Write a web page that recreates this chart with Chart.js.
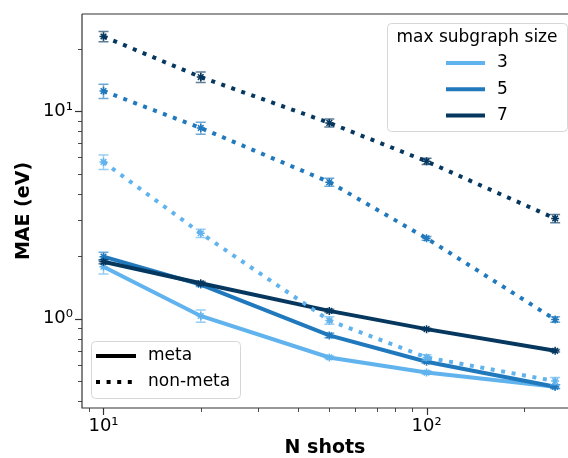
<!DOCTYPE html>
<html>
<head>
<meta charset="utf-8">
<script src="https://cdn.jsdelivr.net/npm/chart.js@4"></script>
<style>
html, body { margin: 0; padding: 0; background: #fff; }
</style>
</head>
<body>
<canvas id="maeChart" width="568" height="458"></canvas>
<script>
// N shots on the x axis
const nShots = [10, 20, 50, 100, 250];
const sizeLabels = ["3", "5", "7"];
const styleLabels = ["meta", "non-meta"];

// MAE (eV)
const metaMae3 = [1.78, 1.03, 0.65, 0.55, 0.47];
const metaMae5 = [1.99, 1.46, 0.83, 0.62, 0.47];
const metaMae7 = [1.88, 1.48, 1.09, 0.89, 0.70];
const nonMetaMae3 = [5.69, 2.58, 0.98, 0.65, 0.50];
const nonMetaMae5 = [12.5, 8.3, 4.55, 2.44, 0.99];
const nonMetaMae7 = [22.9, 14.6, 8.78, 5.73, 3.04];

// error bar half sizes (eV)
const metaErr3 = [0.14, 0.07, 0.01, 0.01, 0.01];
const metaErr5 = [0.10, 0.03, 0.02, 0.01, 0.01];
const metaErr7 = [0.04, 0.03, 0.02, 0.01, 0.01];
const nonMetaErr3 = [0.45, 0.12, 0.04, 0.02, 0.02];
const nonMetaErr5 = [1.0, 0.55, 0.2, 0.05, 0.03];
const nonMetaErr7 = [1.3, 0.85, 0.4, 0.2, 0.14];

const xTickValues = [9, 10, 20, 30, 40, 50, 60, 70, 80, 90, 100, 200];
const yTickValues = [0.4, 0.5, 0.6, 0.7, 0.8, 0.9, 1, 2, 3, 4, 5, 6, 7, 8, 9, 10, 20];
const tickLabels = {1: "10⁰", 10: "10¹", 100: "10²"};

const colors = ["#61b3ee", "#2079bd", "#06375f"];
const errColors = ["rgba(97,179,238,0.65)", "rgba(32,121,189,0.65)", "rgba(6,55,95,0.65)"];
const FONT = "'DejaVu Sans', sans-serif";

function makeSet(label, values, errors, colorIdx, dotted, order) {
    return {
        label: label,
        data: nShots.map((n, i) => ({x: n, y: values[i]})),
        errors: errors,
        errorColor: errColors[colorIdx],
        borderColor: colors[colorIdx],
        backgroundColor: colors[colorIdx],
        borderWidth: 4,
        borderDash: dotted ? [4, 6.6] : [],
        borderCapStyle: "butt",
        pointStyle: "star",
        pointRadius: 4,
        pointBorderWidth: 1.5,
        pointBorderColor: colors[colorIdx],
        tension: 0,
        fill: false,
        clip: 8,
        order: order
    };
}

const errorBarPlugin = {
    id: "errorBars",
    afterDatasetDraw(chart, args) {
        const ds = chart.data.datasets[args.index];
        if (!ds.errors) return;
        const ctx = chart.ctx;
        const xs = chart.scales.x, ys = chart.scales.y;
        ctx.save();
        ctx.strokeStyle = ds.errorColor;
        ctx.lineWidth = 1.5;
        ctx.setLineDash([]);
        ds.data.forEach((p, i) => {
            const x = xs.getPixelForValue(p.x);
            const yLo = ys.getPixelForValue(p.y - ds.errors[i]);
            const yHi = ys.getPixelForValue(p.y + ds.errors[i]);
            ctx.beginPath();
            ctx.moveTo(x, yLo); ctx.lineTo(x, yHi);
            ctx.moveTo(x - 5, yLo); ctx.lineTo(x + 5, yLo);
            ctx.moveTo(x - 5, yHi); ctx.lineTo(x + 5, yHi);
            ctx.stroke();
        });
        ctx.restore();
    }
};

// spines, major/minor tick marks
const axesPlugin = {
    id: "axesDecor",
    afterDraw(chart) {
        const ctx = chart.ctx;
        const a = chart.chartArea;
        const xs = chart.scales.x, ys = chart.scales.y;
        ctx.save();
        ctx.strokeStyle = "#333";
        ctx.lineWidth = 1.2;
        ctx.beginPath();
        ctx.moveTo(a.left, a.top); ctx.lineTo(a.left, a.bottom); ctx.lineTo(a.right, a.bottom);
        ctx.moveTo(a.left, a.top); ctx.lineTo(a.right, a.top);
        ctx.stroke();
        xTickValues.forEach(v => {
            const major = tickLabels[v] !== undefined;
            const x = Math.round(xs.getPixelForValue(v)) + 0.5;
            ctx.lineWidth = major ? 1.2 : 0.9;
            ctx.beginPath();
            ctx.moveTo(x, a.bottom); ctx.lineTo(x, a.bottom + (major ? 7 : 4));
            ctx.stroke();
        });
        yTickValues.forEach(v => {
            const major = tickLabels[v] !== undefined;
            const y = Math.round(ys.getPixelForValue(v)) + 0.5;
            ctx.lineWidth = major ? 1.2 : 0.9;
            ctx.beginPath();
            ctx.moveTo(a.left, y); ctx.lineTo(a.left - (major ? 7 : 4), y);
            ctx.stroke();
        });
        ctx.restore();
    }
};

function legendBox(ctx, x, y, w, h) {
    ctx.beginPath();
    ctx.roundRect(x, y, w, h, 4);
    ctx.fillStyle = "rgba(255,255,255,0.8)";
    ctx.fill();
    ctx.strokeStyle = "#d6d6d6";
    ctx.lineWidth = 1;
    ctx.stroke();
}

const legendsPlugin = {
    id: "twoLegends",
    afterDraw(chart) {
        const ctx = chart.ctx;
        ctx.save();
        ctx.font = "17px " + FONT;
        ctx.textBaseline = "middle";

        // colour legend, top right
        legendBox(ctx, 387.5, 23.5, 180, 108);
        ctx.fillStyle = "#000";
        ctx.textAlign = "center";
        ctx.fillText("max subgraph size", 477, 38);
        ctx.textAlign = "left";
        sizeLabels.forEach((lab, i) => {
            const y = 63 + i * 26.3;
            ctx.strokeStyle = colors[i];
            ctx.lineWidth = 4;
            ctx.beginPath();
            ctx.moveTo(446, y); ctx.lineTo(485, y);
            ctx.stroke();
            ctx.fillStyle = "#000";
            ctx.fillText(lab, 497, y);
        });

        // line style legend, bottom left
        legendBox(ctx, 91.5, 341.5, 149, 57);
        styleLabels.forEach((lab, i) => {
            const y = 356 + i * 26;
            ctx.strokeStyle = "#000";
            ctx.lineWidth = 4;
            ctx.lineCap = "butt";
            ctx.setLineDash(i === 1 ? [4, 6.6] : []);
            ctx.beginPath();
            ctx.moveTo(96, y); ctx.lineTo(136, y);
            ctx.stroke();
            ctx.setLineDash([]);
            ctx.fillStyle = "#000";
            ctx.fillText(lab, 148, y);
        });
        ctx.restore();
    }
};

const datasets = [
    makeSet("non-meta 7", nonMetaMae7, nonMetaErr7, 2, true, 1),
    makeSet("non-meta 5", nonMetaMae5, nonMetaErr5, 1, true, 2),
    makeSet("non-meta 3", nonMetaMae3, nonMetaErr3, 0, true, 3),
    makeSet("meta 7", metaMae7, metaErr7, 2, false, 4),
    makeSet("meta 5", metaMae5, metaErr5, 1, false, 5),
    makeSet("meta 3", metaMae3, metaErr3, 0, false, 6)
];

const chartElement = document.getElementById("maeChart").getContext("2d");
const maeChart = new Chart(chartElement, {
    type: "line",
    data: {datasets: datasets},
    plugins: [errorBarPlugin, axesPlugin, legendsPlugin],
    options: {
        responsive: false,
        animation: false,
        devicePixelRatio: 1,
        layout: {autoPadding: false, padding: {top: 14, right: 0, left: 0, bottom: 0}},
        plugins: {legend: {display: false}, tooltip: {enabled: false}},
        scales: {
            x: {
                type: "logarithmic",
                min: 8.58,
                max: 274,
                afterFit: s => { s.height = 50; s.paddingLeft = 0; s.paddingRight = 0; },
                afterBuildTicks: s => { s.ticks = xTickValues.map(v => ({value: v})); },
                grid: {drawOnChartArea: false, tickLength: 7, tickColor: "rgba(0,0,0,0)"},
                border: {display: false},
                ticks: {
                    autoSkip: false,
                    maxRotation: 0,
                    padding: 1,
                    color: "#000",
                    font: {family: FONT, size: 18},
                    callback: v => tickLabels[v] || ""
                },
                title: {
                    display: true,
                    text: "N shots",
                    color: "#000",
                    font: {family: FONT, size: 19, weight: "bold"},
                    padding: {top: 0, bottom: -1}
                }
            },
            y: {
                type: "logarithmic",
                min: 0.371,
                max: 29.4,
                afterFit: s => { s.width = 82; s.paddingTop = 0; s.paddingBottom = 0; },
                afterBuildTicks: s => { s.ticks = yTickValues.map(v => ({value: v})); },
                grid: {drawOnChartArea: false, tickLength: 7, tickColor: "rgba(0,0,0,0)"},
                border: {display: false},
                ticks: {
                    autoSkip: false,
                    padding: 2,
                    color: "#000",
                    font: {family: FONT, size: 18},
                    callback: v => tickLabels[v] || ""
                },
                title: {
                    display: true,
                    text: "MAE (eV)",
                    color: "#000",
                    font: {family: FONT, size: 19, weight: "bold"},
                    padding: {top: 13, bottom: 0}
                }
            }
        }
    }
});
</script>
</body>
</html>
